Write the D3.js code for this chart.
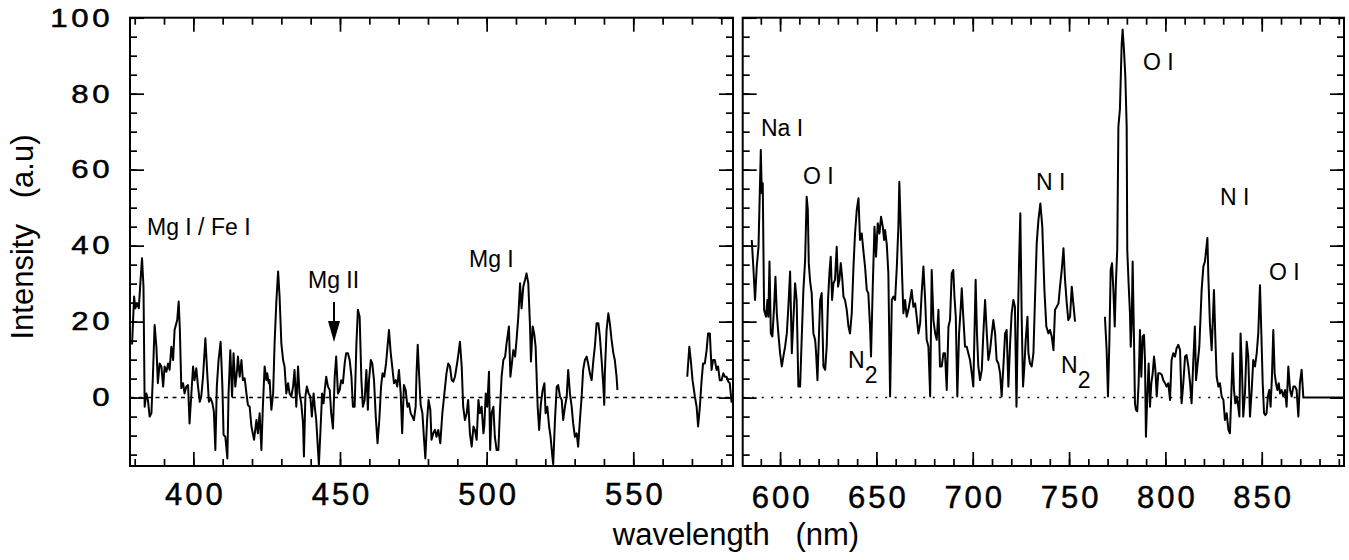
<!DOCTYPE html>
<html>
<head>
<meta charset="utf-8">
<script src="https://cdn.jsdelivr.net/npm/d3@7"></script>
<style>
  html, body { margin: 0; padding: 0; background: #fff; }
  svg { display: block; font-family: "Liberation Sans", Arial, Helvetica, sans-serif; }
</style>
</head>
<body>
<svg id="chart" width="1349" height="560"></svg>
<script>
// spectrum pieces, [wavelength (nm), intensity (a.u)]
var leftSegA = [
  [379.1,14],[379.8,26.6],[380.2,23.5],[380.9,24.8],[381.4,23.5],[382.0,31],[382.5,36.7],[383.0,29.2],[383.4,-2.4],[384.0,1.1],
  [384.5,-0.6],[385.1,-5],[385.7,-4.1],[386.2,5.5],[386.8,19.1],[387.4,13.4],[387.9,3.8],[388.5,9],[389.1,8.2],[389.7,2.9],
  [390.2,8.2],[390.8,6.8],[391.4,9],[391.9,7.3],[392.5,13.4],[393.1,9.9],[393.6,17.8],[394.5,20.4],[395.0,25.3],[395.4,17.8],
  [395.9,2.5],[396.5,3.8],[397.0,1.1],[397.6,2.9],[398.2,3.3],[398.7,-6.8],[399.3,0.7],[399.9,8.2],[400.4,4.6],[401.0,7.7],
  [401.6,2.9],[402.2,-1.1],[402.7,0.3],[403.3,5.5],[404.1,15.6],[404.8,5.5],[405.3,-1.1],[405.9,-0.2],[406.5,-1.5],[407.0,-3.7],
  [407.5,-13.8],[408.0,2.9],[408.6,9.9],[409.3,14.7],[409.9,2.9],[410.3,-9.8],[410.9,-10.3],[411.6,-16],[412.0,1.1],[412.6,12.5],
  [413.2,0.3],[413.7,11.7],[414.3,2.9],[414.9,7.3],[415.2,10.8],[415.8,5.5],[416.4,9.9],[416.9,4.6],[417.5,5.1],[418.1,1.1],
  [418.6,-1.9],[419.2,-2.4],[419.8,-7.6],[420.7,-11.1],[421.5,-5.9],[422.0,-9.4],[422.6,-4.1],[423.2,-13.8],[423.7,-2.4],[424.3,8.2],
  [424.9,4.6],[425.2,6.4],[425.7,3.8],[426.0,4.6],[426.6,-3.2],[427.2,1.1],[427.7,14.3],[428.3,25.3],[428.9,33.2],[429.4,26.6],
  [430.0,14.3],[430.6,9.9],[431.1,8.2],[431.7,1.1],[432.3,3.8],[432.8,1.1],[433.4,0.3],[434.0,2.9],[434.5,7.3],[435.1,-2.4],
  [435.7,8.2],[436.2,1.1],[436.8,-1.5],[437.4,-6.8],[437.7,-15.5],[438.2,0.3],[438.7,2.9],[439.3,1.1],[439.9,0.3],[440.4,-5],
  [441.0,1.1],[441.4,-2.4],[441.9,-5.9],[442.5,-13.8],[442.8,-17.7],[443.3,-9.4],[443.9,1.1],[444.4,-1.5],[444.8,2],[445.3,5.5],
  [445.9,2.9],[446.5,2],[447.0,-4.1],[447.6,-8.1],[448.2,5.5],[448.7,10.8],[449.3,1.1],[449.9,2],[450.4,4.6],[451.0,3.8],
  [451.6,9],[452.1,11.7],[452.7,11.7],[453.3,9.9],[453.9,5.5],[454.4,-2.4],[455.0,-2.4],[455.6,14.3],[456.1,23.1],[456.7,21.3],
  [457.3,4.6],[457.8,-2.4],[458.4,-0.6],[459.0,7.3],[459.5,-3.2],[459.9,4.6],[460.5,9.9],[461.0,9],[461.6,4.6],[462.2,-5],
  [462.8,-12],[463.4,-5.9],[464.0,2.9],[464.5,6.4],[465.1,5.5],[465.7,9],[466.2,13.4],[466.7,17.8],[467.3,11.7],[467.8,8.2],
  [468.4,3.8],[469.0,4.6],[469.5,2.9],[470.1,7.3],[470.7,1.1],[471.2,-9.4],[471.8,3.3],[472.4,2],[473.0,-2.4],[473.5,-1.5],
  [474.1,-4.1],[474.7,-5],[475.2,-5.9],[475.8,-2.4],[476.1,6.4],[476.5,13.9],[476.9,7.3],[477.5,-1.9],[478.1,-4.1],[478.6,-10.3],
  [479.1,-16],[479.7,-5.9],[480.2,-0.6],[480.8,-3.2],[481.2,-11.1],[481.8,-9.4],[482.4,-8.5],[482.9,-10.3],[483.5,-8.5],[484.2,-12],
  [484.9,-4.1],[485.6,1.1],[486.3,6.4],[486.9,9],[487.5,8.2],[488.1,4.6],[488.6,4.2],[489.2,5.5],[490.1,9.9],[490.9,14.7],
  [491.5,8.2],[492.0,-2.4],[492.6,-5.9],[493.2,-4.1],[493.7,-0.6],[494.3,-9.4],[494.9,-12.9],[495.5,-7.6],[496.0,-8.5],[496.6,-11.1],
  [497.2,-0.6],[497.7,-4.1],[498.3,-2.4],[498.9,-9.4],[499.2,-7.6],[499.7,1.1],[500.2,-2.4],[500.8,6.8],[501.2,-13.8],[501.7,-4.1],
  [502.3,-2.4],[502.8,-10.3],[503.4,-13.8],[504.0,-13.8],[504.5,-4.1],[505.1,5.5],[505.7,9.9],[506.3,10.8],[506.8,14.3],[507.6,18.7],
  [508.1,5.5],[508.5,8.2],[509.1,12.5],[509.7,10.8],[510.2,15.2],[510.8,21.3],[511.4,30.1],[511.9,23.5],[512.5,29.2],[513.1,31],
  [513.6,32.7],[514.2,30.1],[514.8,18.7],[515.1,9.5],[515.7,18.7],[516.2,16.9],[516.7,13.4],[517.4,-2.4],[517.9,-8.5],[518.5,-1.5],
  [519.1,2],[519.7,3.8],[520.1,-4.1],[520.7,-2.4],[521.3,-7.6],[521.8,-10.3],[522.4,-15.5],[522.7,-17.5],[523.3,-5.9],[523.9,2.9],
  [524.4,3.3],[525.0,0.3],[525.6,-0.6],[526.1,-5.9],[526.7,-2.4],[527.3,0.3],[527.8,7.3],[528.4,1.1],[529.0,-2.4],[529.5,-6.8],
  [530.1,-10.3],[530.7,-9.4],[531.2,-12.9],[531.8,-5.9],[532.4,0.3],[532.9,7.3],[533.5,9.9],[534.1,10.8],[534.6,9],[535.2,6.4],
  [535.8,4.6],[536.4,9.9],[536.9,13.4],[537.5,19.6],[538.1,19.6],[538.6,16.1],[539.2,9.9],[539.8,2.9],[540.1,-1.9],[540.3,6.4],
  [540.9,17.8],[541.5,22.2],[542.0,19.6],[542.6,15.2],[543.2,11.7],[543.7,9.9],[544.3,5.5],[544.6,2]
];
var leftSegB = [
  [568.4,5.5],[569.1,13.4],[569.6,9.9],[570.2,4.6],[571.0,0.3],[571.6,-2.4],[572.1,-7.6],[572.7,-2.4],[573.3,4.6],[573.8,9],
  [574.4,9],[575.0,12.5],[575.5,16.9],[576.1,16.9],[576.7,7.3],[577.2,9.9],[577.8,9.9],[578.4,7.3],[578.9,8.2],[579.5,4.6],
  [580.1,4.6],[580.7,6.4],[581.2,5.5],[581.8,5.5],[582.4,4.2],[582.9,3.8],[583.5,-1.1],[583.8,-0.6]
];
var rightSegA = [
  [585.3,41.5],[586.2,33.6],[587.0,25.7],[587.9,34.5],[588.8,39.7],[590.0,65.2],[590.5,53.8],[591.0,56.4],[591.7,23.1],[592.7,21.3],
  [593.4,25.7],[593.9,21.3],[594.5,35.8],[595.2,16.9],[596.0,16.1],[596.9,23.9],[597.6,31.8],[598.3,22.2],[599.1,16.9],[600.0,11.7],
  [600.9,8.2],[601.7,10.8],[602.6,13.4],[603.5,16.9],[604.3,23.9],[605.2,33.2],[606.1,11.7],[606.9,20.4],[607.8,30.1],[608.6,25.7],
  [609.5,2.9],[610.4,2.9],[611.2,15.2],[612.1,28.3],[613.0,36.2],[613.8,52.9],[614.4,49.4],[614.9,35.4],[615.6,30.5],[616.4,27.5],
  [617.3,16.9],[618.2,15.2],[618.7,11.7],[619.4,4.6],[620.1,15.2],[620.8,25.7],[621.6,27.5],[622.5,8.2],[623.4,7.3],[624.2,13.4],
  [624.9,25.7],[625.6,32.7],[626.3,37.1],[627.0,25.7],[627.7,30.1],[628.5,31],[629.4,39.7],[630.1,29.2],[630.8,31],[631.5,35.4],
  [632.2,31.8],[632.9,26.6],[633.7,25.7],[634.6,23.1],[635.5,18.7],[636.3,16.9],[637.2,22.2],[638.1,34.5],[638.9,43.2],[639.8,49.4],
  [640.7,52.5],[641.5,41.5],[642.4,43.2],[643.2,38.9],[644.1,34.5],[645.0,28.3],[645.8,27.5],[646.7,18.7],[647.2,10.8],[648.1,29.2],
  [649.0,45],[649.8,37.1],[650.7,45.9],[651.6,43.2],[652.4,47.6],[653.3,45],[654.0,41.5],[654.5,44.1],[655.4,40.2],[656.2,32.7],
  [657.1,0.3],[658.0,25.7],[658.8,26.6],[659.7,25.7],[660.6,34.5],[661.4,45],[661.9,56.8],[662.6,45],[663.3,32.7],[664.0,22.2],
  [664.9,25.7],[665.7,21.3],[666.6,23.1],[667.5,25.7],[668.3,28.3],[669.2,23.9],[670.1,24.8],[670.9,21.3],[671.8,16.9],[672.7,19.6],
  [673.5,27.5],[674.4,34.5],[675.3,25.7],[676.1,15.2],[677.0,13.4],[677.9,0.3],[678.7,33.6],[679.6,20.4],[680.5,16.9],[681.3,15.2],
  [682.2,23.1],[683.0,8.2],[683.9,8.2],[684.8,11.7],[685.6,11.7],[686.5,2],[687.4,18.7],[688.2,20.4],[689.1,32.7],[689.9,33.6],
  [690.5,26.6],[691.2,21.3],[692.0,0.3],[692.9,16.9],[693.8,23.9],[694.3,28.8],[695.1,21.3],[696.0,13.4],[696.9,13.4],[697.7,11.7],
  [698.6,9.9],[699.5,6.4],[700.3,2.9],[700.9,16.9],[701.5,31],[702.2,16.9],[702.9,8.2],[703.8,4.6],[704.7,7.3],[705.5,16.9],
  [706.4,25.7],[707.3,16.9],[708.1,9.9],[709.0,12.5],[709.9,16.9],[710.7,20.4],[711.6,16.9],[712.4,9.9],[713.3,9],[714.2,6.4],
  [715.0,0.3],[715.9,8.2],[716.8,16.9],[717.6,17.8],[718.5,2.9],[719.4,14.3],[720.2,22.2],[721.1,25.7],[721.9,23.9],[722.7,-2.4],
  [723.3,16.9],[724.0,34.5],[724.7,48.5],[725.4,21.3],[726.1,2.9],[726.8,8.2],[727.5,15.2],[728.4,21.3],[728.9,11.7],[729.7,9],
  [730.6,8.2],[731.5,11.7],[732.3,25.7],[733.2,40.6],[734.1,46.8],[735.1,51.1],[736.1,45],[737.2,28.3],[738.2,18.7],[739.3,16.9],
  [740.1,17.8],[741.0,16.1],[741.9,12.5],[742.7,23.1],[743.6,23.9],[744.5,24.8],[745.3,29.2],[746.2,33.6],[747.1,39.3],[747.9,31],
  [748.8,24.8],[749.6,20.4],[750.5,21.3],[751.4,29.2],[752.2,24.8],[753.1,20]
];
var rightSegB = [
  [768.6,21.3],[769.5,12.5],[770.2,0.3],[770.9,14.3],[771.6,33.6],[772.3,35.4],[773.0,28.3],[773.7,18.7],[774.3,30.1],[775.0,38.9],
  [775.6,71.3],[776.4,76],[777.3,93],[777.8,96.9],[778.5,91.5],[779.2,84.5],[779.9,71.3],[780.2,38.9],[780.9,30.1],[781.6,22.2],
  [782.0,13.4],[782.5,19.6],[783.0,35.8],[783.7,15.2],[784.2,-1.5],[784.7,-3.2],[785.4,-3.6],[786.1,3.8],[786.8,17.8],[787.5,5.5],
  [788.2,16.1],[788.9,16.5],[789.4,9.9],[789.9,-10.3],[790.6,0.3],[791.3,9],[792.0,-2.4],[792.7,3.8],[793.4,6.4],[794.1,10.8],
  [794.8,7.3],[795.5,0.3],[796.3,6.4],[797.2,6.4],[798.1,6],[798.9,4.6],[799.8,3.8],[800.6,2.9],[801.5,3.8],[802.4,-0.6],
  [803.2,9.9],[804.1,11.7],[805.0,10.8],[805.8,13],[806.7,13.9],[807.6,12.5],[808.4,-1.5],[809.3,3.8],[810.2,10.8],[811.0,11.2],
  [811.9,8.2],[812.8,3.8],[813.6,-1.5],[814.5,9.9],[815.3,18.7],[815.9,4.6],[816.6,8.2],[817.6,13.4],[818.8,28.3],[819.7,34.5],
  [820.5,35.8],[821.8,42],[822.3,31.8],[823.1,19.6],[824.0,12.5],[824.5,18.7],[825.2,28.3],[825.9,16.1],[826.6,5.5],[827.5,2.9],
  [828.3,3.8],[829.2,0.3],[830.1,-0.6],[830.9,-5.9],[831.8,-4.1],[832.7,-8.5],[833.5,-9.4],[834.4,3.8],[834.9,11.7],[835.6,2],
  [836.3,-1.5],[837.0,0.3],[837.8,-2.4],[838.4,-5],[839.0,16.9],[839.7,8.2],[840.4,-5],[841.3,1.1],[842.2,14.7],[843.0,10.8],
  [843.9,-5],[844.8,2],[845.6,9.9],[846.5,8.2],[847.4,11.7],[848.2,16.9],[849.1,29.6],[849.8,16.9],[850.5,3.8],[851.2,-4.1],
  [851.9,-4.6],[852.5,-4.1],[853.2,0.3],[853.9,2],[854.6,-2.4],[855.3,5.5],[856.0,17.8],[856.7,6.4],[857.4,3.8],[858.1,2],
  [858.8,3.8],[859.5,1.1],[860.3,2],[861.2,0.3],[862.1,2],[862.9,-2.4],[863.8,8.2],[864.7,2],[865.5,0.3],[866.4,2.9],
  [867.3,2.9],[868.1,2],[869.0,-5],[869.8,3.8],[870.7,7.3],[871.6,0],[892.7,0]
];

var yMajor = [0, 20, 40, 60, 80, 100];
var yMinor = d3.range(-15, 101, 5);
var leftMajor = [400, 450, 500, 550];
var rightMajor = [600, 650, 700, 750, 800, 850];

// line labels, pixel positions
var notes = [
  { t: "Mg I / Fe I", x: 147, y: 235 },
  { t: "Mg II", x: 308, y: 288 },
  { t: "Mg I", x: 469, y: 267 },
  { t: "Na I", x: 761, y: 136 },
  { t: "O I", x: 803, y: 184 },
  { t: "N I", x: 1036, y: 190 },
  { t: "O I", x: 1143, y: 70 },
  { t: "N I", x: 1220, y: 205 },
  { t: "O I", x: 1269, y: 280 }
];
var n2Notes = [ { x: 848, y: 368 }, { x: 1061, y: 373 } ];

var svg = d3.select("#chart");
var y = d3.scaleLinear().domain([-18, 100]).range([466, 17.7]);
var yTop = y(100), yBottom = y(-18);

var panels = [
  { x: d3.scaleLinear().domain([378.4, 584]).range([130, 733]),
    segs: [leftSegA, leftSegB], major: leftMajor, minor: d3.range(380, 584, 10),
    dash: "4,4.5", zeroEnd: 584, labels: true, pad: 17 },
  { x: d3.scaleLinear().domain([580.6, 892.7]).range([742.7, 1344]),
    segs: [rightSegA, rightSegB], major: rightMajor, minor: d3.range(590, 893, 10),
    dash: "2,7.5", zeroEnd: 871.6, labels: false, pad: 20 }
];

function tickGroup(g, axis, tr) {
  var a = g.append("g").attr("transform", tr).call(axis);
  a.select(".domain").remove();
  a.selectAll(".tick line").attr("stroke", "#000").attr("stroke-width", 1.7);
  return a;
}

panels.forEach(function(p) {
  var x0 = p.x.range()[0], x1 = p.x.range()[1];
  var g = svg.append("g");

  g.append("line")
    .attr("x1", x0).attr("x2", p.x(p.zeroEnd))
    .attr("y1", y(0)).attr("y2", y(0))
    .attr("stroke", "#000").attr("stroke-width", 1.5)
    .attr("stroke-dasharray", p.dash);

  var line = d3.line().x(function(d) { return p.x(d[0]); }).y(function(d) { return y(d[1]); });
  p.segs.forEach(function(s) {
    g.append("path").attr("d", line(s))
      .attr("fill", "none").attr("stroke", "#000")
      .attr("stroke-width", 2).attr("stroke-linejoin", "round");
  });

  // bottom / top
  tickGroup(g, d3.axisBottom(p.x).tickValues(p.minor).tickSize(-7).tickFormat(""), "translate(0," + yBottom + ")");
  var xb = tickGroup(g, d3.axisBottom(p.x).tickValues(p.major).tickSize(-14).tickPadding(p.pad).tickFormat(d3.format("d")), "translate(0," + yBottom + ")");
  xb.selectAll("text").attr("font-size", 31).attr("letter-spacing", 3).attr("dx", 1.5)
    .attr("fill", "#000").attr("stroke", "#000").attr("stroke-width", 0.5);
  tickGroup(g, d3.axisTop(p.x).tickValues(p.minor).tickSize(-7).tickFormat(""), "translate(0," + yTop + ")");
  tickGroup(g, d3.axisTop(p.x).tickValues(p.major).tickSize(-14).tickFormat(""), "translate(0," + yTop + ")");

  // left / right
  tickGroup(g, d3.axisLeft(y).tickValues(yMinor).tickSize(-7).tickFormat(""), "translate(" + x0 + ",0)");
  var yl = tickGroup(g, d3.axisLeft(y).tickValues(yMajor).tickSize(-14).tickPadding(14)
    .tickFormat(p.labels ? d3.format("d") : ""), "translate(" + x0 + ",0)");
  yl.selectAll("text").attr("font-size", 26).attr("letter-spacing", 3)
    .attr("transform", "scale(1.2,1)").attr("fill", "#000")
    .attr("stroke", "#000").attr("stroke-width", 0.5);
  tickGroup(g, d3.axisRight(y).tickValues(yMinor).tickSize(-7).tickFormat(""), "translate(" + x1 + ",0)");
  tickGroup(g, d3.axisRight(y).tickValues(yMajor).tickSize(-14).tickFormat(""), "translate(" + x1 + ",0)");

  g.append("rect")
    .attr("x", x0).attr("y", yTop)
    .attr("width", x1 - x0).attr("height", yBottom - yTop)
    .attr("fill", "none").attr("stroke", "#000").attr("stroke-width", 2);
});

// axis titles
svg.append("text")
  .attr("x", 736).attr("y", 545)
  .attr("text-anchor", "middle").attr("font-size", 31)
  .style("white-space", "pre")
  .text("wavelength   (nm)");

svg.append("text")
  .attr("transform", "translate(33,237) rotate(-90)")
  .attr("text-anchor", "middle").attr("font-size", 31)
  .style("white-space", "pre")
  .text("Intensity   (a.u)");

// line identifications
svg.selectAll("text.note").data(notes).enter()
  .append("text").attr("class", "note")
  .attr("x", function(d) { return d.x; }).attr("y", function(d) { return d.y; })
  .attr("font-size", 23).style("white-space", "pre")
  .text(function(d) { return d.t; });

n2Notes.forEach(function(d) {
  var t = svg.append("text").attr("x", d.x).attr("y", d.y).attr("font-size", 23);
  t.append("tspan").text("N");
  t.append("tspan").attr("dy", 15).text("2");
});

// Mg II arrow
svg.append("line").attr("x1", 334).attr("x2", 334).attr("y1", 302).attr("y2", 324)
  .attr("stroke", "#000").attr("stroke-width", 2);
svg.append("path").attr("d", "M328,321 L340,321 L334,342 Z").attr("fill", "#000");
</script>
</body>
</html>
